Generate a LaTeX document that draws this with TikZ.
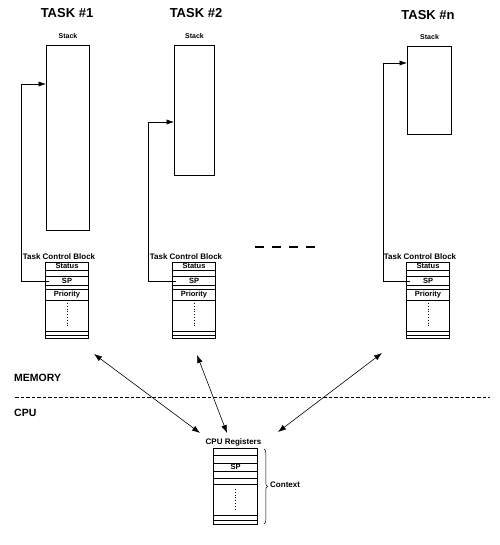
\documentclass[tikz,border=0pt]{standalone}
\usepackage{fontspec}
\setmainfont{Liberation Sans}
\usetikzlibrary{positioning,arrows.meta,calc,decorations.pathreplacing}

\begin{document}
\begin{tikzpicture}[
  x=1pt, y=-1pt,
  title/.style={font=\fontsize{13}{15}\selectfont\bfseries},
  stacklbl/.style={font=\fontsize{7}{8}\selectfont\bfseries, inner sep=1pt},
  lbl/.style={font=\fontsize{8}{9}\selectfont\bfseries, inner sep=1pt},
  sec/.style={font=\fontsize{10.5}{12}\selectfont\bfseries, inner sep=0pt},
  field/.style={font=\fontsize{7.5}{8}\selectfont\bfseries, inner sep=0pt},
  stackbox/.style={draw, line width=1.1pt, minimum width=43pt, anchor=north west, inner sep=0pt},
  regbox/.style={draw, line width=1pt, minimum width=43pt, minimum height=76pt, anchor=north west, inner sep=0pt},
  row/.style={line width=0.5pt},
  ptr/.style={-{Latex[length=2.6mm, width=1.8mm]}, line width=0.6pt},
  link/.style={{Latex[length=2.8mm, width=2mm]}-{Latex[length=2.8mm, width=2mm]}, line width=0.6pt}
]
\useasboundingbox (0,0) rectangle (499,545);

% tasks and their stacks
\node[title] (task1) at (67,13) {TASK \#1};
\node[title] (task2) at (196,13) {TASK \#2};
\node[title] (taskn) at (428,15) {TASK \#n};
\node[stackbox, minimum height=185pt] (stack1) at (46,45) {};
\node[stackbox, minimum height=130pt, minimum width=40pt] (stack2) at (174,45) {};
\node[stackbox, minimum height=88pt, minimum width=44pt] (stackn) at (407,46) {};
\foreach \t in {1,2,n}
  \node[stacklbl, above=5pt of stack\t] {Stack};

\draw[line width=1.3pt, dash pattern=on 9pt off 8pt] (255,247) -- (322,247);

% task control blocks
\foreach \t/\x in {1/45, 2/172, n/406} {
  \node[regbox] (tcb\t) at (\x,262) {};
  \node[lbl, above=1pt of tcb\t, xshift=-8pt] {Task Control Block};
  \foreach \d in {8,14,23,27,38,69,73}
    \draw[row] ($(tcb\t.north west)+(0,\d)$) -- ($(tcb\t.north east)+(0,\d)$);
  \node[field] at ($(tcb\t.north)+(0,4)$) {Status};
  \node[field] at ($(tcb\t.north)+(0,18.5)$) {SP};
  \node[field] at ($(tcb\t.north)+(0,32.5)$) {Priority};
  \draw[dotted, line width=0.8pt] ($(tcb\t.north)+(0,41)$) -- ($(tcb\t.north)+(0,66)$);
  \coordinate (sp\t) at ($(tcb\t.north west)+(4,19)$);
}
\draw[ptr] (sp1) -- ++(-28,0) |- ($(stack1.north west)+(0,39)$);
\draw[ptr] (sp2) -- ++(-28,0) |- ($(stack2.north west)+(0,77)$);
\draw[ptr] (spn) -- ++(-27,0) |- ($(stackn.north west)+(0,17)$);

% memory / cpu divide
\node[sec, anchor=west] (mem) at (14,378) {MEMORY};
\node[sec, anchor=west] (cpu) at (14,413) {CPU};
\draw[line width=0.6pt, dash pattern=on 3.5pt off 2pt] (15,397) -- (490,397);

% cpu registers
\node[regbox, minimum width=44pt] (regs) at (213,448) {};
\node[lbl, above=1pt of regs, xshift=-2pt] (regslbl) {CPU Registers};
\foreach \d in {7,15,23,30,36,67,72}
  \draw[row] ($(regs.north west)+(0,\d)$) -- ($(regs.north east)+(0,\d)$);
\node[field] at ($(regs.north)+(0,19)$) {SP};
\draw[dotted, line width=0.8pt] ($(regs.north)+(0,41)$) -- ($(regs.north)+(0,63)$);
\draw[decorate, decoration={brace, amplitude=3.5pt}, line width=0.5pt]
  ($(regs.north east)+(6,1)$) -- ($(regs.south east)+(6,-1)$);
\node[lbl, anchor=west] (ctx) at ($(regs.east)+(11,-2)$) {Context};

% context switch links
\coordinate (m1) at ($(tcb1.south east)+(5,15)$);
\coordinate (m2) at ($(tcb2.south east)+(-19,16)$);
\coordinate (mn) at ($(tcbn.south west)+(-24,14)$);
\coordinate (c1) at ($(regs.north west)+(-13,-15)$);
\coordinate (c2) at ($(regs.north west)+(14,-15)$);
\coordinate (cn) at ($(regs.north east)+(20,-16)$);
\draw[link] (m1) -- (c1);
\draw[link] (m2) -- (c2);
\draw[link] (mn) -- (cn);
\end{tikzpicture}
\end{document}
